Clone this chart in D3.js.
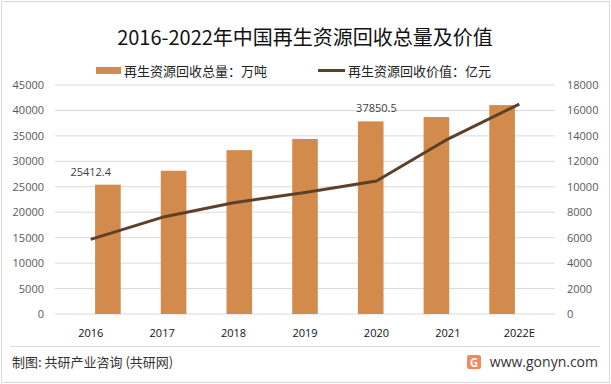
<!DOCTYPE html>
<html>
<head>
<meta charset="utf-8">
<script src="https://cdn.jsdelivr.net/npm/d3@7"></script>
<style>
  body { margin: 0; background: #fff; }
  svg { font-family: "Noto Sans CJK SC", "Noto Sans", sans-serif; }
</style>
</head>
<body>
<svg width="611" height="384"></svg>
<script>
const years = ["2016", "2017", "2018", "2019", "2020", "2021", "2022E"];
const volume = [25412.4, 28150, 32200, 34400, 37850.5, 38700, 41050]; // 万吨
const value = [5870, 7600, 8750, 9550, 10450, 13750, 16500]; // 亿元
const leftTicks = [0, 5000, 10000, 15000, 20000, 25000, 30000, 35000, 40000, 45000];
const rightTicks = [0, 2000, 4000, 6000, 8000, 10000, 12000, 14000, 16000, 18000];
const labelled = ["2016", "2020"];

const barColor = "#d38b4d",
  lineColor = "#5e4029";

const margin = { top: 85, right: 56, bottom: 70, left: 55 },
  width = 611 - margin.left - margin.right,
  height = 384 - margin.top - margin.bottom;

const root = d3.select("svg");

// outer frame
root.append("rect")
  .attr("x", 1.5).attr("y", 1.5)
  .attr("width", 608).attr("height", 381)
  .attr("fill", "none").attr("stroke", "#d9d9d9");

root.append("text")
  .attr("x", 305).attr("y", 45)
  .attr("text-anchor", "middle")
  .attr("font-size", 20)
  .attr("fill", "#111")
  .text("2016-2022年中国再生资源回收总量及价值");

const svg = root.append("g")
  .attr("transform", "translate(" + margin.left + "," + margin.top + ")");

const x = d3.scaleBand().domain(years).range([0, width]).padding(0.61);
const xc = d3.scaleBand().domain(years).range([0, width]);
const y0 = d3.scaleLinear().domain([0, 45000]).range([height, 0]);
const y1 = d3.scaleLinear().domain([0, 18000]).range([height, 0]);

// gridlines
svg.append("g")
  .selectAll("line")
  .data(leftTicks)
  .enter()
  .append("line")
  .attr("x1", 0).attr("x2", width)
  .attr("y1", d => y0(d)).attr("y2", d => y0(d))
  .attr("stroke", "#d9d9d9").attr("stroke-width", 1);

const leftAxis = d3.axisLeft(y0).tickValues(leftTicks).tickFormat(d3.format("d")).tickSize(0).tickPadding(11);
const rightAxis = d3.axisRight(y1).tickValues(rightTicks).tickFormat(d3.format("d")).tickSize(0).tickPadding(12);
const bottomAxis = d3.axisBottom(xc).tickSize(0).tickPadding(15);

svg.append("g").attr("class", "y axis").call(leftAxis);
svg.append("g").attr("class", "y2 axis")
  .attr("transform", "translate(" + width + ",0)").call(rightAxis);
svg.append("g").attr("class", "x axis")
  .attr("transform", "translate(0," + height + ")").call(bottomAxis);

svg.selectAll(".axis .domain").remove();
svg.selectAll(".y.axis text, .y2.axis text")
  .attr("font-size", 11).attr("fill", "#595959")
  .attr("font-family", "'Open Sans', sans-serif");
svg.selectAll(".x.axis text")
  .attr("font-size", 11).attr("fill", "#111")
  .attr("font-family", "'Open Sans', sans-serif");

// bars
svg.selectAll(".bar")
  .data(years)
  .enter()
  .append("rect")
  .attr("class", "bar")
  .attr("x", d => x(d))
  .attr("width", x.bandwidth())
  .attr("y", (d, i) => y0(volume[i]))
  .attr("height", (d, i) => height - y0(volume[i]))
  .attr("fill", barColor);

// data labels
svg.selectAll(".lbl")
  .data(years.filter(d => labelled.includes(d)))
  .enter()
  .append("text")
  .attr("class", "lbl")
  .attr("x", d => xc(d) + xc.bandwidth() / 2)
  .attr("y", d => y0(volume[years.indexOf(d)]) - 9)
  .attr("text-anchor", "middle")
  .attr("font-size", 11)
  .attr("fill", "#404040")
  .attr("font-family", "'Open Sans', sans-serif")
  .text(d => volume[years.indexOf(d)]);

// value line
const line = d3.line()
  .x((d, i) => xc(years[i]) + xc.bandwidth() / 2)
  .y(d => y1(d));

svg.append("path")
  .datum(value)
  .attr("d", line)
  .attr("fill", "none")
  .attr("stroke", lineColor)
  .attr("stroke-width", 3)
  .attr("stroke-linejoin", "round");

// legend
const legend = root.append("g").attr("font-size", 13).attr("fill", "#222");
legend.append("rect")
  .attr("x", 96).attr("y", 67).attr("width", 25).attr("height", 7)
  .attr("fill", barColor);
legend.append("text").attr("x", 124).attr("y", 75.5).text("再生资源回收总量：万吨");
legend.append("line")
  .attr("x1", 318).attr("x2", 345).attr("y1", 70.5).attr("y2", 70.5)
  .attr("stroke", lineColor).attr("stroke-width", 3);
legend.append("text").attr("x", 348).attr("y", 75.5).text("再生资源回收价值：亿元");

// footer
root.append("line")
  .attr("x1", 10).attr("x2", 600).attr("y1", 346.5).attr("y2", 346.5)
  .attr("stroke", "#d9d9d9");
root.append("text")
  .attr("x", 12).attr("y", 367)
  .attr("font-size", 13).attr("fill", "#333")
  .text("制图: 共研产业咨询 (共研网)");

const logo = root.append("g").attr("transform", "translate(467,355)");
logo.append("rect").attr("width", 14).attr("height", 14).attr("rx", 2).attr("fill", "#f08a5d");
logo.append("text").attr("x", 7).attr("y", 11.5).attr("text-anchor", "middle")
  .attr("font-size", 11).attr("font-weight", "bold").attr("fill", "#fff").text("G");
root.append("text")
  .attr("x", 598).attr("y", 367)
  .attr("text-anchor", "end")
  .attr("font-size", 14).attr("fill", "#333")
  .attr("font-family", "'Open Sans', sans-serif")
  .text("www.gonyn.com");
</script>
</body>
</html>
